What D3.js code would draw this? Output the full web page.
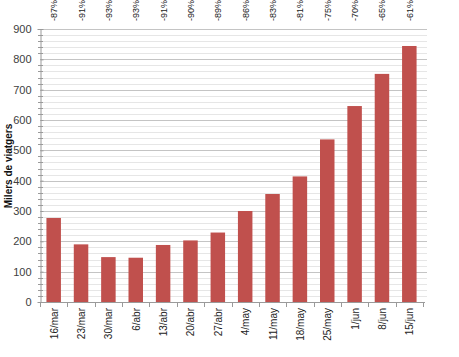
<!DOCTYPE html>
<html><head><meta charset="utf-8">
<script src="https://cdn.jsdelivr.net/npm/d3@7"></script>
<style>body{margin:0;background:#fff}svg{display:block;font-family:"Liberation Sans",Arial,sans-serif}</style>
</head><body><svg id="c" width="459" height="357"></svg>
<script>
const categories = ["16/mar","23/mar","30/mar","6/abr","13/abr","20/abr","27/abr","4/may","11/may","18/may","25/may","1/jun","8/jun","15/jun"];
const values = [277,190,148,146,188,203,229,300,356,414,536,646,752,844];
const pctLabels = ["-87%","-91%","-93%","-93%","-91%","-90%","-89%","-86%","-83%","-81%","-75%","-70%","-65%","-61%"];
const yTicks = [0,100,200,300,400,500,600,700,800,900];
const yTitle = "Milers de viatgers";

const svg = d3.select("#c");
const W = 459, H = 357;
const plotL = 40, plotR = 423, gridR = 427, plotT = 29, plotB = 302;
const x = d3.scaleBand().domain(categories).range([plotL, plotR]).paddingInner(0.47).paddingOuter(0.235);
const y = d3.scaleLinear().domain([0,900]).range([plotB, plotT]);

// minor gridlines
const minor = d3.range(0,901,20).filter(v => v%100!==0);
svg.append("g").selectAll("line").data(minor).join("line")
  .attr("x1", plotL).attr("x2", gridR).attr("y1", d=>Math.round(y(d))+0.5).attr("y2", d=>Math.round(y(d))+0.5)
  .attr("stroke", "#e6e6e6").attr("stroke-width",1);
// major gridlines
svg.append("g").selectAll("line").data(yTicks.filter(v=>v>0)).join("line")
  .attr("x1", plotL).attr("x2", gridR).attr("y1", d=>Math.round(y(d))+0.5).attr("y2", d=>Math.round(y(d))+0.5)
  .attr("stroke", "#c4c4c4").attr("stroke-width",1);

// bars
svg.append("g").selectAll("rect").data(values).join("rect")
  .attr("x", (d,i)=>x(categories[i])).attr("width", x.bandwidth())
  .attr("y", d=>y(d)).attr("height", d=>y(0)-y(d))
  .attr("fill", "#c0504d");

// y axis
const ya = svg.append("g").attr("transform", `translate(${plotL+0.5},0)`)
  .call(d3.axisLeft(y).tickValues(yTicks).tickSize(3).tickPadding(6));
ya.select(".domain").attr("stroke","#9a9a9a");
ya.selectAll(".tick line").attr("stroke","#9a9a9a").attr("x2",3);
ya.selectAll("text").attr("font-size",11).attr("fill","#404040");
svg.append("g").selectAll("line").data(minor).join("line")
  .attr("x1", plotL-2).attr("x2", plotL+3).attr("y1", d=>Math.round(y(d))+0.5).attr("y2", d=>Math.round(y(d))+0.5)
  .attr("stroke","#9a9a9a");

// x axis
svg.append("line").attr("x1", plotL).attr("x2", plotR+2).attr("y1", y(0)+0.5).attr("y2", y(0)+0.5).attr("stroke","#9a9a9a");
const step = x.step();
const bounds = d3.range(categories.length+1).map(i => plotL + i*step);
svg.append("g").selectAll("line").data(bounds).join("line")
  .attr("x1", d=>Math.round(d)+0.5).attr("x2", d=>Math.round(d)+0.5)
  .attr("y1", y(0)).attr("y2", y(0)+5).attr("stroke","#9a9a9a");
svg.append("g").selectAll("text").data(categories).join("text")
  .attr("transform", d=>`translate(${x(d)+x.bandwidth()/2+4},${y(0)+6}) rotate(-90)`)
  .attr("text-anchor","end").attr("font-size",10).attr("fill","#222").text(d=>d);

// top percent labels
svg.append("g").selectAll("text").data(pctLabels).join("text")
  .attr("transform", (d,i)=>`translate(${x(categories[i])+x.bandwidth()/2+3.5},21) rotate(-90)`)
  .attr("text-anchor","start").attr("font-size",9).attr("fill","#222").text(d=>d);

// y title
svg.append("text").attr("transform", `translate(12,166) rotate(-90)`)
  .attr("text-anchor","middle").attr("font-size",10).attr("font-weight","bold").attr("fill","#111").text(yTitle);
</script></body></html>
